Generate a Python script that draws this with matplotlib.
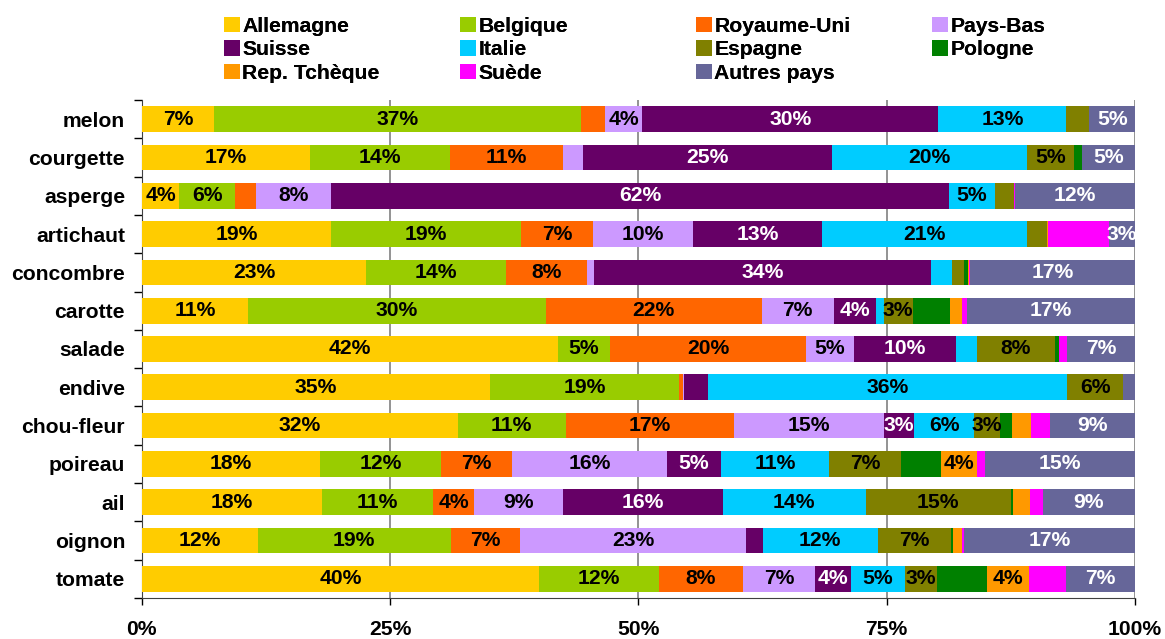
import matplotlib
matplotlib.use("Agg")
import matplotlib.pyplot as plt
from matplotlib.patches import Patch
import numpy as np

plt.rcParams['font.family'] = ['Liberation Sans', 'DejaVu Sans']
plt.rcParams['font.weight'] = 'bold'

categories = ["melon", "courgette", "asperge", "artichaut", "concombre", "carotte",
              "salade", "endive", "chou-fleur", "poireau", "ail", "oignon", "tomate"]

allemagne    = [7.3, 16.9, 3.8, 19.1, 22.6, 10.7, 41.9, 35.1, 31.8, 18.0, 18.2, 11.7, 40.0]
belgique     = [36.9, 14.1, 5.6, 19.1, 14.1, 30.0, 5.2, 19.0, 10.9, 12.1, 11.1, 19.4, 12.1]
royaume_uni  = [2.4, 11.4, 2.1, 7.2, 8.1, 21.7, 19.8, 0.4, 16.9, 7.2, 4.2, 7.0, 8.4]
pays_bas     = [3.8, 2.0, 7.6, 10.1, 0.7, 7.3, 4.8, 0.1, 15.1, 15.6, 8.9, 22.7, 7.3]
suisse       = [29.8, 25.1, 62.2, 13.0, 34.0, 4.2, 10.3, 2.4, 3.1, 5.4, 16.1, 1.7, 3.6]
italie       = [12.9, 19.6, 4.6, 20.6, 2.1, 0.8, 2.1, 36.2, 6.0, 10.9, 14.4, 11.6, 5.4]
espagne      = [2.3, 4.8, 1.9, 2.0, 1.2, 2.9, 7.8, 5.6, 2.6, 7.2, 14.6, 7.4, 3.3]
pologne      = [0.0, 0.8, 0.0, 0.0, 0.4, 3.8, 0.4, 0.0, 1.2, 4.1, 0.2, 0.2, 5.0]
rep_tcheque  = [0.0, 0.0, 0.0, 0.1, 0.1, 1.2, 0.0, 0.0, 1.9, 3.6, 1.7, 0.9, 4.2]
suede        = [0.0, 0.0, 0.1, 6.2, 0.1, 0.5, 0.9, 0.0, 1.9, 0.8, 1.3, 0.2, 3.8]
autres_pays  = [4.6, 5.3, 12.1, 2.6, 16.6, 16.9, 6.8, 1.2, 8.6, 15.1, 9.3, 17.2, 6.9]

series_names = ["Allemagne", "Belgique", "Royaume-Uni", "Pays-Bas", "Suisse", "Italie",
                "Espagne", "Pologne", "Rep. Tchèque", "Suède", "Autres pays"]
series_values = [allemagne, belgique, royaume_uni, pays_bas, suisse, italie,
                 espagne, pologne, rep_tcheque, suede, autres_pays]
colors = ["#FFCC00", "#99CC00", "#FF6600", "#CC99FF", "#660066", "#00CCFF",
          "#808000", "#008000", "#FF9900", "#FF00FF", "#666699"]
label_colors = ["black", "black", "black", "black", "white", "black",
                "black", None, "black", None, "white"]

x_ticks = [0, 25, 50, 75, 100]
x_tick_labels = ["0%", "25%", "50%", "75%", "100%"]

W, H = 1165, 639
fig = plt.figure(figsize=(W / 100, H / 100), dpi=100)
ax = fig.add_axes([141.7 / W, 1 - 598 / H, (1135 - 141.7) / W, (598 - 100) / H])

y = np.arange(len(categories))
left = np.zeros(len(categories))
FS = 15.2
for name, vals, col, lc in zip(series_names, series_values, colors, label_colors):
    vals = np.array(vals, dtype=float)
    ax.barh(y, vals, left=left, height=0.67, color=col, edgecolor='none', zorder=3)
    if lc is not None:
        for yi, (l, v) in enumerate(zip(left, vals)):
            if v >= 2.5:
                ax.text(l + v / 2, yi, f"{int(round(v))}%", ha='center', va='center',
                        color=lc, fontsize=FS, fontweight='bold', zorder=4)
    left += vals

ax.set_xlim(0, 100)
ax.set_ylim(len(categories) - 0.5, -0.5)

ax.set_xticks(x_ticks)
ax.set_xticklabels(x_tick_labels, fontsize=FS, fontweight='bold')
ax.tick_params(axis='x', length=5, width=1, pad=11, color='black')

ax.set_yticks(np.arange(-0.5, len(categories), 1.0))
ax.set_yticklabels([])
ax.tick_params(axis='y', which='major', length=6, width=1, color='black')
ax.set_yticks(y, minor=True)
ax.set_yticklabels(categories, minor=True, fontsize=FS, fontweight='bold')
ax.tick_params(axis='y', which='minor', length=0, pad=12)

for gx in [25, 50, 75, 100]:
    ax.axvline(gx, color='#808080', lw=1.2, zorder=1)

ax.spines['top'].set_visible(False)
ax.spines['right'].set_visible(False)
ax.spines['left'].set_color('#404040')
ax.spines['bottom'].set_color('#404040')

# legend: four columns placed at their own positions
handles = {n: Patch(facecolor=c, edgecolor='none') for n, c in zip(series_names, colors)}
columns = [["Allemagne", "Suisse", "Rep. Tchèque"],
           ["Belgique", "Italie", "Suède"],
           ["Royaume-Uni", "Espagne", "Autres pays"],
           ["Pays-Bas", "Pologne"]]
col_x = [224, 460, 696, 932]
for names, cx in zip(columns, col_x):
    leg = fig.legend([handles[n] for n in names], names, loc='upper left',
                     bbox_to_anchor=(cx / W, 1 - 17 / H), frameon=False,
                     handlelength=0.75, handleheight=0.75,
                     handletextpad=0.12, labelspacing=0.2, borderpad=0,
                     borderaxespad=0, prop={'weight': 'bold', 'size': FS})
    fig.add_artist(leg)

fig.savefig("out.png", dpi=100)
